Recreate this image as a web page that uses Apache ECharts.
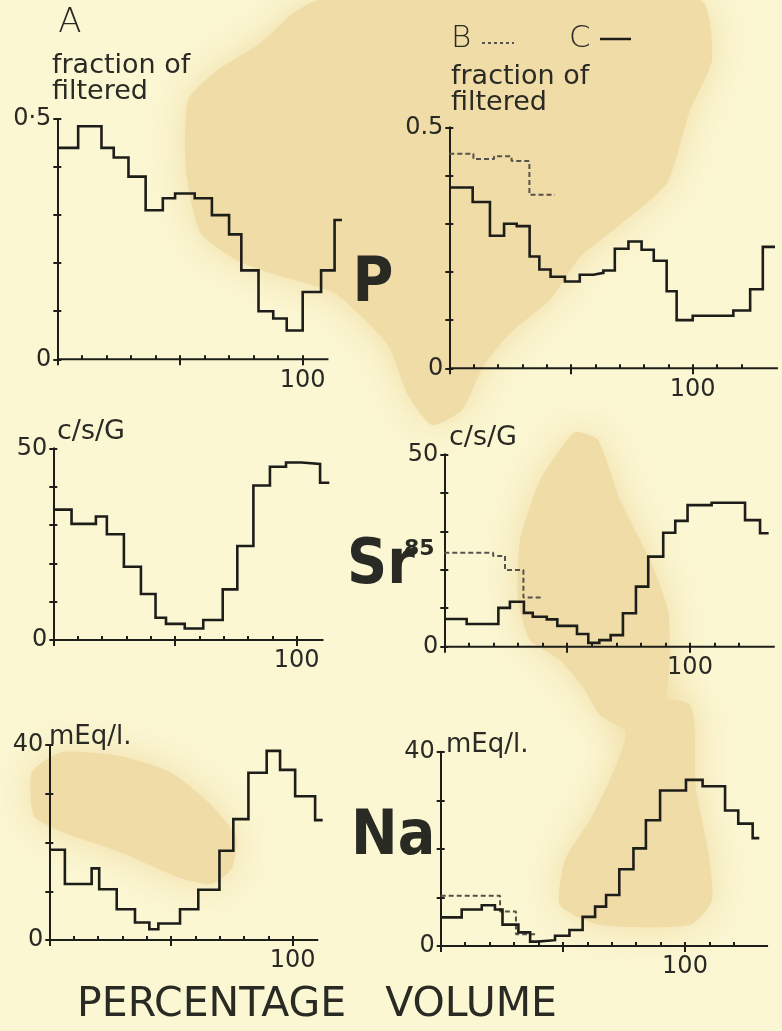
<!DOCTYPE html>
<html>
<head>
<meta charset="utf-8">
<script src="https://cdn.jsdelivr.net/npm/echarts@6/dist/echarts.min.js"></script>
<style>
  html, body { margin: 0; padding: 0; background: #fbf7d3; }
  #chart { width: 782px; height: 1031px; }
</style>
</head>
<body>
<div id="chart"></div>
<script>
// Step profiles: each series is a list of segment edges (percentage volume)
// and the level held over each segment (one fewer level than edges).

// P, fraction of filtered
const pEdgesA  = [0, 8.5, 18, 23, 29, 36, 43, 48, 56, 63, 70, 75, 82, 88, 93.5, 100, 107.5, 113, 116];
const pLevelsA = [0.44, 0.485, 0.44, 0.42, 0.38, 0.31, 0.335, 0.345, 0.335, 0.30, 0.26, 0.185, 0.10, 0.085, 0.06, 0.14, 0.185, 0.29];
const pEdgesB  = [0, 9.9, 18.4, 25.6, 32.9, 43.4];
const pLevelsB = [0.445, 0.434, 0.44, 0.43, 0.36];
const pEdgesC  = [0, 9.6, 16.7, 22.5, 27.7, 33, 37, 41.6, 47.5, 53.6, 59.2, 63.3, 68, 73.6, 79, 84, 89.3, 93.4, 100, 116.7, 123.6, 128.8, 133.8];
const pLevelsC = [0.375, 0.345, 0.275, 0.30, 0.295, 0.232, 0.205, 0.19, 0.18, 0.194, 0.198, 0.203, 0.248, 0.263, 0.246, 0.223, 0.16, 0.10, 0.109, 0.12, 0.164, 0.252];

// Sr85, c/s/G
const srEdgesA  = [0, 7.5, 17.5, 22, 29, 36, 42, 46.3, 54, 61.6, 69.6, 75.6, 82.2, 89, 95.6, 102, 109.6, 113.4];
const srLevelsA = [34, 30.3, 32.2, 27.6, 19.1, 12, 5.8, 4.2, 3, 5.2, 13.2, 24.5, 40.3, 45.2, 46.3, 45.9, 41];
const srEdgesB  = [0, 19.9, 24.7, 32.2, 40];
const srLevelsB = [24.4, 23.6, 19.9, 12.8];
const srEdgesC  = [0, 9.1, 22, 26.7, 32.4, 36, 41.7, 46, 54, 58.6, 63.1, 67.7, 72.7, 78, 83, 89.1, 94, 99, 108.8, 122.4, 128.5, 132];
const srLevelsC = [7.2, 5.9, 10.1, 11.7, 8.8, 7.8, 7.1, 5.4, 3.3, 1.0, 1.7, 3.0, 8.7, 15.6, 23.4, 29.6, 32.7, 36.8, 37.4, 32.9, 29.5];

// Na, mEq/l.
const naEdgesA  = [0, 6.4, 17.4, 20.5, 27.7, 35.2, 41.1, 44.8, 53.7, 61.2, 69.9, 75.6, 81.8, 89.3, 94.8, 101, 109.2, 112.3];
const naLevelsA = [18.5, 11.5, 14.7, 10.4, 6.3, 3.6, 2.2, 3.4, 6.3, 10.3, 18.3, 24.8, 34.3, 38.8, 34.9, 29.5, 24.6];
const naEdgesB  = [0, 24.3, 30.8, 39.3];
const naLevelsB = [10.35, 7.1, 2.4];
const naEdgesC  = [0, 8.6, 16.8, 22.2, 25.3, 31.8, 36.6, 39.3, 46.8, 52.7, 58.1, 63.2, 67.7, 73.1, 78.9, 84, 89.8, 100.4, 107.2, 116.4, 121.8, 127.7, 130.4];
const naLevelsC = [5.9, 7.5, 8.4, 7.5, 4.4, 2.8, 0.9, 1.2, 2.1, 3.3, 6.0, 8.1, 10.5, 15.8, 20.1, 25.9, 32.0, 34.2, 32.9, 27.9, 25.2, 22.2];

// Axis ticks and labels
const xMajorTicks   = [0, 50, 100];
const xLabelValues  = [100];
const xMinorTicksA  = [10, 20, 30, 40, 50, 60, 70, 80, 90, 100];
const xMinorTicksBC = [10, 20, 30, 40, 50, 60, 70, 80, 90, 100, 110, 120];
const pTicks  = [0, 0.1, 0.2, 0.3, 0.4, 0.5];
const srTicks = [0, 10, 20, 30, 40, 50];
const naTicks = [0, 10, 20, 30, 40];
const pTopLabelA = '0·5';
const pTopLabelBC = '0.5';

const INK = '#1d1d19';
const TEXT = '#2a2a25';
const FONT = '"DejaVu Sans", sans-serif';
const BIG = 'bold 62px "Liberation Sans Narrow", "DejaVu Sans Condensed", sans-serif';
const STAIN = '#f0dca6';

function steps(edges, levels) {
  const pts = levels.map((v, i) => [edges[i], v]);
  pts.push([edges[edges.length - 1], levels[levels.length - 1]]);
  return pts;
}

// Each plot: its box, the value range of the plot area, where the drawn x axis stops
const panels = [
  { box: { left: 57.3,  top: 119,   width: 287.1, height: 240.3 }, xmax: 117, axisEnd: 110.5, ymax: 0.5, yTicks: pTicks,  top: pTopLabelA,  minor: xMinorTicksA,
    lines: [['A', pEdgesA, pLevelsA, false]] },
  { box: { left: 449.3, top: 127.3, width: 328.6, height: 241 },   xmax: 135, axisEnd: 135,   ymax: 0.5, yTicks: pTicks,  top: pTopLabelBC, minor: xMinorTicksBC,
    lines: [['B', pEdgesB, pLevelsB, true], ['C', pEdgesC, pLevelsC, false]] },
  { box: { left: 53.3,  top: 448.3, width: 284.8, height: 191.7 }, xmax: 117, axisEnd: 111,   ymax: 50,  yTicks: srTicks, top: '50', minor: xMinorTicksA,
    lines: [['A', srEdgesA, srLevelsA, false]] },
  { box: { left: 444.3, top: 454.3, width: 331.7, height: 192.4 }, xmax: 135, axisEnd: 134.5, ymax: 50,  yTicks: srTicks, top: '50', minor: xMinorTicksBC,
    lines: [['B', srEdgesB, srLevelsB, true], ['C', srEdgesC, srLevelsC, false]] },
  { box: { left: 49.3,  top: 745,   width: 284.8, height: 195 },   xmax: 117, axisEnd: 110.5, ymax: 40,  yTicks: naTicks, top: '40', minor: xMinorTicksA,
    lines: [['A', naEdgesA, naLevelsA, false]] },
  { box: { left: 440.7, top: 751.7, width: 329.8, height: 194.3 }, xmax: 135, axisEnd: 134,   ymax: 40,  yTicks: naTicks, top: '40', minor: xMinorTicksBC,
    lines: [['B', naEdgesB, naLevelsB, true], ['C', naEdgesC, naLevelsC, false]] }
];

const grid = [], xAxis = [], yAxis = [], series = [];
const labelStyle = { color: TEXT, fontSize: 24, fontFamily: FONT };

panels.forEach((p, k) => {
  grid.push(Object.assign({ containLabel: false, outerBoundsMode: 'none' }, p.box));
  xAxis.push({
    type: 'value', gridIndex: k, min: 0, max: p.xmax, position: 'bottom',
    axisLine: { show: false, onZero: false },
    axisTick: { show: true, inside: false, length: 6, customValues: xMajorTicks, lineStyle: { color: INK, width: 2 } },
    axisLabel: Object.assign({ show: true, customValues: xLabelValues, margin: 9 }, labelStyle),
    splitLine: { show: false }
  });
  xAxis.push({
    type: 'value', gridIndex: k, min: 0, max: p.xmax, position: 'bottom',
    axisLine: { show: false, onZero: false },
    axisTick: { show: true, inside: true, length: 4, customValues: p.minor, lineStyle: { color: INK, width: 2 } },
    axisLabel: { show: false }, splitLine: { show: false }
  });
  yAxis.push({
    type: 'value', gridIndex: k, min: 0, max: p.ymax, position: 'left',
    axisLine: { show: true, onZero: false, lineStyle: { color: INK, width: 2 } },
    axisTick: { show: true, inside: false, length: 4, customValues: p.yTicks, lineStyle: { color: INK, width: 2 } },
    axisLabel: Object.assign({
      show: true, customValues: [0, p.ymax], margin: 6,
      formatter: (v) => (v === 0 ? '0' : p.top)
    }, labelStyle),
    splitLine: { show: false }
  });
  yAxis.push({
    type: 'value', gridIndex: k, min: 0, max: p.ymax, position: 'left',
    axisLine: { show: false, onZero: false },
    axisTick: { show: true, inside: true, length: 4, customValues: p.yTicks, lineStyle: { color: INK, width: 2 } },
    axisLabel: { show: false }, splitLine: { show: false }
  });
  // x axis baseline, stopping short of the plot area's right edge
  series.push({
    name: 'axis', type: 'line', xAxisIndex: 2 * k, yAxisIndex: 2 * k,
    data: [[0, 0], [p.axisEnd, 0]], symbol: 'none', silent: true, clip: false,
    lineStyle: { color: INK, width: 2 }, z: 2
  });
  p.lines.forEach(([name, edges, levels, dashed]) => {
    series.push({
      name, type: 'line', xAxisIndex: 2 * k, yAxisIndex: 2 * k,
      data: steps(edges, levels), step: 'end', symbol: 'none', clip: false, silent: true,
      lineStyle: dashed
        ? { color: '#55534b', width: 2, type: [5, 3] }
        : { color: INK, width: 2.6, join: 'miter' },
      z: dashed ? 3 : 4
    });
  });
});

// Paper discolouration patches, drawn behind the plots
function stain(points) {
  return { type: 'polygon', z: -1, silent: true, shape: { points, smooth: 0.2 },
           style: { fill: STAIN, shadowBlur: 40, shadowColor: STAIN } };
}
function label(text, x, y, font, align) {
  return { type: 'text', z: 10, silent: true, x, y,
           style: { text, font, fill: TEXT, textAlign: align || 'left', textVerticalAlign: 'middle' } };
}

const graphic = [
  stain([[320,0],[700,0],[712,60],[690,110],[667,183],[617,227],[580,257],[550,300],[510,333],[483,367],[462,410],[432,425],[408,395],[388,345],[360,315],[333,292],[267,272],[233,258],[200,232],[186,170],[188,100],[215,72],[262,42],[292,14]]),
  stain([[575,432],[598,440],[620,500],[650,560],[668,610],[670,660],[668,700],[690,720],[640,735],[600,715],[585,690],[560,660],[530,640],[518,600],[520,540],[540,480],[560,450]]),
  stain([[630,700],[690,705],[696,790],[708,850],[712,900],[690,925],[600,925],[560,905],[565,860],[590,820],[610,780],[625,740]]),
  stain([[32,772],[62,752],[120,756],[170,772],[208,802],[236,836],[232,868],[212,884],[180,878],[120,852],[62,832],[34,816]]),

  label('A', 70, 23, '300 34px ' + FONT, 'center'),
  label('fraction of', 52, 66, '27px ' + FONT),
  label('filtered', 52, 92, '27px ' + FONT),

  label('B', 451, 39, '300 31px ' + FONT),
  { type: 'line', z: 10, silent: true, shape: { x1: 482, y1: 43, x2: 514, y2: 43 },
    style: { stroke: '#55534b', lineWidth: 2, lineDash: [3, 3] } },
  label('C', 569, 39, '300 31px ' + FONT),
  { type: 'line', z: 10, silent: true, shape: { x1: 600, y1: 39, x2: 631, y2: 39 },
    style: { stroke: INK, lineWidth: 2.5 } },
  label('fraction of', 451, 77, '27px ' + FONT),
  label('filtered', 451, 103, '27px ' + FONT),

  label('P', 373, 285, BIG, 'center'),
  label('Sr', 347, 567, BIG),
  label('85', 404, 549, 'bold 22px ' + FONT),
  label('Na', 351, 838, BIG),

  label('c/s/G', 57, 432, '27px ' + FONT),
  label('c/s/G', 449, 438, '27px ' + FONT),
  label('mEq/l.', 49, 737, '26px ' + FONT),
  label('mEq/l.', 446, 745, '26px ' + FONT),

  label('PERCENTAGE   VOLUME', 77, 1005, '41px ' + FONT)
];

const chart = echarts.init(document.getElementById('chart'), null, { renderer: 'canvas' });
chart.setOption({
  backgroundColor: '#fbf7d3',
  animation: false,
  grid, xAxis, yAxis, series, graphic
});
</script>
</body>
</html>
